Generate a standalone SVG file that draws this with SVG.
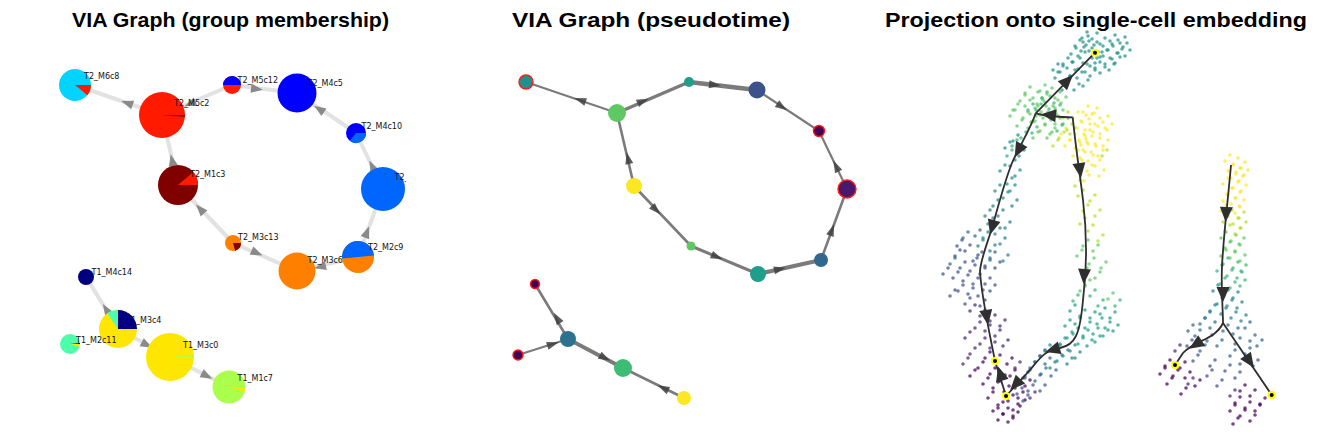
<svg xmlns="http://www.w3.org/2000/svg" xmlns:xlink="http://www.w3.org/1999/xlink" width="1324" height="443" viewBox="0 0 1324 443">
<style>
.title{font-family:"Liberation Sans",Arial,sans-serif;font-weight:bold;font-size:21px;fill:#000;text-anchor:middle}
.lbl{font-family:"DejaVu Sans",sans-serif;font-size:8px;fill:#111}
.eL{stroke:#e2e2e2;stroke-width:4;fill:none;stroke-linecap:round}
.eM{stroke:#5a5a5a;stroke-opacity:.8;fill:none;stroke-linecap:round}
.tr{stroke:#2f2f2f;stroke-width:1.8;fill:none;stroke-linejoin:round}
.term{fill:#000;stroke:#ffff00;stroke-width:2}
.rim{stroke:#ff1a1a;stroke-width:1.4}
#cells circle{r:1.8px}
</style>
<defs>
<clipPath id="cL"><rect x="0" y="30" width="406" height="413"/></clipPath>
<clipPath id="cR"><rect x="930" y="30" width="394" height="413"/></clipPath>
<path id="ahL" d="M-6,-4.5 L6,0 L-6,4.5 Z" fill="#8a8a8a"/>
<path id="ahM" d="M-6,-4 L6,0 L-6,4 Z" fill="#404040" fill-opacity=".85"/>
<path id="ahR" d="M-8,-6.5 L7,0 L-8,6.5 Z" fill="#2f2f2f"/>
</defs>
<rect width="1324" height="443" fill="#fff"/>
<text class="title" x="230.5" y="27" textLength="317" lengthAdjust="spacingAndGlyphs">VIA Graph (group membership)</text>
<text class="title" x="651" y="27" textLength="278" lengthAdjust="spacingAndGlyphs">VIA Graph (pseudotime)</text>
<text class="title" x="1096" y="27" textLength="422" lengthAdjust="spacingAndGlyphs">Projection onto single-cell embedding</text>

<!-- LEFT PANEL -->
<g clip-path="url(#cL)">
<g id="left-connectors">
<path class="eL" d="M162,115 L75,85"/>
<path class="eL" d="M162,115 L232,85"/>
<path class="eL" d="M232,85 L297,93"/>
<path class="eL" d="M297,93 L356,133"/>
<path class="eL" d="M356,133 L383,189" stroke-width="3"/>
<path class="eL" d="M383,189 L358,257"/>
<path class="eL" d="M358,257 L297,271"/>
<path class="eL" d="M297,271 L233,243"/>
<path class="eL" d="M233,243 L178,185"/>
<path class="eL" d="M178,185 L162,115"/>
<path class="eL" d="M86,277 L118,329"/>
<path class="eL" d="M118,329 L170,357"/>
<path class="eL" d="M170,357 L229,387"/>
<use href="#ahL" transform="translate(127,103) rotate(-161)"/>
<use href="#ahL" transform="translate(190,104) rotate(157)"/>
<use href="#ahL" transform="translate(257,89) rotate(7)"/>
<use href="#ahL" transform="translate(319,109) rotate(-146)"/>
<use href="#ahL" transform="translate(372,166) rotate(-116)"/>
<use href="#ahL" transform="translate(367,232) rotate(-70)"/>
<use href="#ahL" transform="translate(320,267) rotate(167)"/>
<use href="#ahL" transform="translate(257,253) rotate(24)"/>
<use href="#ahL" transform="translate(200,209) rotate(-133)"/>
<use href="#ahL" transform="translate(172,160) rotate(-103)"/>
<use href="#ahL" transform="translate(106,309) rotate(-122)"/>
<use href="#ahL" transform="translate(147,345) rotate(28)"/>
<use href="#ahL" transform="translate(207,376) rotate(27)"/>
</g>
<g id="left-labels">
<text class="lbl" x="126" y="322.5">T1_M3c4</text>
</g>
<g id="T2_M6c8"><circle cx="75" cy="85" r="16" fill="#00d4ff"/><path d="M75,85 L91,85 A16,16 0 0 1 87.3,95.3 Z" fill="#ff1a00"/><text class="lbl" x="84" y="79">T2_M6c8</text></g>
<g id="T2_M5c2"><circle cx="162" cy="115" r="23" fill="#ff1a00"/><path d="M162,115 L185,115 L185,117 Z" fill="#8a1010"/><text class="lbl" x="174" y="106">T2_M5c2</text></g>
<g id="T2_M1c3"><circle cx="178" cy="185" r="20" fill="#800000"/><path d="M178,185 L198,185 A20,20 0 0 0 193.3,172.1 Z" fill="#ff1a00"/><text class="lbl" x="190" y="177">T2_M1c3</text></g>
<g id="T2_M5c12"><circle cx="232" cy="85" r="9" fill="#ff1a00"/><path d="M223,85 A9,9 0 0 1 241,85 Z" fill="#0000ff"/><text class="lbl" x="237.5" y="82.5">T2_M5c12</text></g>
<g id="T2_M4c5"><circle cx="297" cy="93" r="19.5" fill="#0000ff"/><text class="lbl" x="307.5" y="86">T2_M4c5</text></g>
<g id="T2_M4c10"><circle cx="356" cy="133" r="10" fill="#0000ff"/><path d="M356,133 L366,133 A10,10 0 0 1 349.6,140.7 Z" fill="#0066ff"/><text class="lbl" x="361.5" y="129">T2_M4c10</text></g>
<g id="T2_big"><circle cx="383" cy="189" r="22" fill="#0066ff"/><text class="lbl" x="394.5" y="179.5">T2_</text></g>
<g id="T2_M3c13"><circle cx="233" cy="243" r="8" fill="#ff8000"/><path d="M233,243 L241,243 A8,8 0 0 1 235.1,250.7 Z" fill="#800000"/><text class="lbl" x="238" y="240">T2_M3c13</text></g>
<g id="T2_M3c6"><circle cx="297" cy="271" r="18.5" fill="#ff8000"/><text class="lbl" x="307.5" y="263">T2_M3c6</text></g>
<g id="T2_M2c9"><circle cx="358" cy="257" r="16" fill="#ff8000"/><path d="M358,257 L342,258.5 A16,16 0 0 1 374,255.5 Z" fill="#0066ff"/><text class="lbl" x="368" y="249.5">T2_M2c9</text></g>
<g id="T1_M4c14"><circle cx="86" cy="277" r="8" fill="#000080"/><text class="lbl" x="91.5" y="275">T1_M4c14</text></g>
<g id="T1_M3c4"><circle cx="118" cy="329" r="19" fill="#ffe600"/><path d="M118,329 L118,310 A19,19 0 0 1 137,329 Z" fill="#000080"/><path d="M118,329 L107.4,313.2 A19,19 0 0 1 118,310 Z" fill="#4dffb3"/></g>
<g id="T1_M2c11"><circle cx="70" cy="344" r="10" fill="#4dffaa"/><path d="M70,344 L80,344 A10,10 0 0 1 79.6,346.8 Z" fill="#ffe600"/><path d="M70,344 L80,343 L80,344 Z" fill="#000080"/><text class="lbl" x="76" y="342.5">T1_M2c11</text></g>
<g id="T1_M3c0"><circle cx="170" cy="357" r="24" fill="#ffe600"/><path d="M170,357 L194,357 A24,24 0 0 0 193.9,355.3 Z" fill="#aaff4d"/><text class="lbl" x="183" y="347.5">T1_M3c0</text></g>
<g id="T1_M1c7"><circle cx="229" cy="387" r="16.5" fill="#aaff4d"/><path d="M229,387 L245.4,388.5 A16.5,16.5 0 0 1 244.7,392.1 Z" fill="#ffe600"/><text class="lbl" x="237.5" y="380.5">T1_M1c7</text></g>
</g>

<!-- MIDDLE PANEL -->
<g id="middle-connectors">
<path class="eM" stroke-width="2.2" d="M617,113 L526,82"/>
<path class="eM" stroke-width="3.5" d="M617,113 L689,82"/>
<path class="eM" stroke-width="4.5" d="M689,82 L757,90"/>
<path class="eM" stroke-width="2.2" d="M757,90 L819,131"/>
<path class="eM" stroke-width="2.6" d="M634,186 L617,113"/>
<path class="eM" stroke-width="2.6" d="M634,186 L691,246"/>
<path class="eM" stroke-width="3" d="M691,246 L758,274"/>
<path class="eM" stroke-width="4" d="M758,274 L821,260"/>
<path class="eM" stroke-width="2.6" d="M821,260 L847,189"/>
<path class="eM" stroke-width="2.2" d="M847,189 L819,131"/>
<path class="eM" stroke-width="2.6" d="M568,339 L535,284"/>
<path class="eM" stroke-width="2" d="M518,355 L568,339"/>
<path class="eM" stroke-width="4" d="M568,339 L623,368"/>
<path class="eM" stroke-width="2.6" d="M684,398 L623,368"/>
<use href="#ahM" transform="translate(580,100) rotate(-161)"/>
<use href="#ahM" transform="translate(643,101) rotate(-23)"/>
<use href="#ahM" transform="translate(715,85) rotate(7)"/>
<use href="#ahM" transform="translate(782,107) rotate(33.5)"/>
<use href="#ahM" transform="translate(628,158) rotate(-103)"/>
<use href="#ahM" transform="translate(656,210) rotate(46.5)"/>
<use href="#ahM" transform="translate(717,257) rotate(23)"/>
<use href="#ahM" transform="translate(780,269) rotate(-12.5)"/>
<use href="#ahM" transform="translate(832,230) rotate(-70)"/>
<use href="#ahM" transform="translate(836,166) rotate(-116)"/>
<use href="#ahM" transform="translate(557,318) rotate(-121)"/>
<use href="#ahM" transform="translate(553,344) rotate(-18)"/>
<use href="#ahM" transform="translate(605,358) rotate(28)"/>
<use href="#ahM" transform="translate(663,388) rotate(-154)"/>
</g>
<g id="pA"><circle class="rim" cx="526" cy="82" r="7" fill="#21908d"/></g>
<g id="pB"><circle cx="617" cy="113" r="9" fill="#5ec962"/></g>
<g id="pC"><circle cx="689" cy="82" r="5" fill="#1f9e89"/></g>
<g id="pD"><circle cx="757" cy="90" r="8.5" fill="#3b528b"/></g>
<g id="pE"><circle class="rim" cx="819" cy="131" r="5.5" fill="#440154"/></g>
<g id="pF"><circle cx="634" cy="186" r="8" fill="#fde725"/></g>
<g id="pG"><circle class="rim" cx="847" cy="189" r="9" fill="#48186a"/></g>
<g id="pH"><circle cx="691" cy="246" r="4.5" fill="#5ec962"/></g>
<g id="pI"><circle cx="758" cy="274" r="8" fill="#1f9e89"/></g>
<g id="pJ"><circle cx="821" cy="260" r="7" fill="#31688e"/></g>
<g id="pK"><circle class="rim" cx="535" cy="284" r="4.5" fill="#440154"/></g>
<g id="pL"><circle cx="568" cy="339" r="8" fill="#2c728e"/></g>
<g id="pM"><circle class="rim" cx="518" cy="355" r="5" fill="#440154"/></g>
<g id="pN"><circle cx="623" cy="368" r="9" fill="#3dbc74"/></g>
<g id="pO"><circle cx="684" cy="398" r="7" fill="#fde725"/></g>

<!-- RIGHT PANEL -->
<g clip-path="url(#cR)">
<g id="cellsAll">
<g id="cells" fill-opacity=".72">
<g fill="#21918c">
<circle cx="1080" cy="40" r="1.5"/><circle cx="1088" cy="36" r="1.5"/><circle cx="1097" cy="42" r="1.5"/><circle cx="1105" cy="38" r="1.5"/><circle cx="1112" cy="44" r="1.5"/><circle cx="1118" cy="40" r="1.5"/><circle cx="1123" cy="47" r="1.5"/><circle cx="1108" cy="50" r="1.5"/><circle cx="1100" cy="57" r="1.5"/><circle cx="1092" cy="58" r="1.5"/><circle cx="1085" cy="52" r="1.5"/><circle cx="1078" cy="56" r="1.5"/><circle cx="1072" cy="62" r="1.5"/><circle cx="1083" cy="63" r="1.5"/><circle cx="1090" cy="66" r="1.5"/><circle cx="1100" cy="62" r="1.5"/><circle cx="1110" cy="58" r="1.5"/><circle cx="1117" cy="53" r="1.5"/><circle cx="1103" cy="46" r="1.5"/><circle cx="1094" cy="45" r="1.5"/><circle cx="1086" cy="45" r="1.5"/><circle cx="1076" cy="48" r="1.5"/><circle cx="1068" cy="58" r="1.5"/><circle cx="1063" cy="66" r="1.5"/><circle cx="1075" cy="70" r="1.5"/><circle cx="1082" cy="72" r="1.5"/><circle cx="1095" cy="70" r="1.5"/><circle cx="1105" cy="67" r="1.5"/><circle cx="1114" cy="64" r="1.5"/><circle cx="1120" cy="57" r="1.5"/><circle cx="1127" cy="43" r="1.5"/><circle cx="1130" cy="50" r="1.5"/><circle cx="1087" cy="32" r="1.5"/><circle cx="1097" cy="33" r="1.5"/><circle cx="1115" cy="35" r="1.5"/><circle cx="1070" cy="76" r="1.5"/><circle cx="1060" cy="72" r="1.5"/><circle cx="1088" cy="80" r="1.5"/><circle cx="1079" cy="84" r="1.5"/><circle cx="1067" cy="84" r="1.5"/><circle cx="1089" cy="41" r="1.5"/><circle cx="1102" cy="52" r="1.5"/><circle cx="1125" cy="37" r="1.5"/><circle cx="1058" cy="64" r="1.5"/>
<circle cx="1018" cy="135" r="1.5"/><circle cx="1010" cy="142" r="1.5"/><circle cx="1024" cy="150" r="1.5"/><circle cx="1015" cy="160" r="1.5"/><circle cx="1005" cy="165" r="1.5"/><circle cx="1020" cy="170" r="1.5"/><circle cx="1012" cy="178" r="1.5"/><circle cx="1000" cy="185" r="1.5"/><circle cx="1015" cy="185" r="1.5"/><circle cx="1008" cy="192" r="1.5"/>
</g>
<g fill="#26828e">
<circle cx="998" cy="200" r="1.5"/><circle cx="1017" cy="200" r="1.5"/><circle cx="1003" cy="210" r="1.5"/><circle cx="990" cy="210" r="1.5"/><circle cx="993" cy="218" r="1.5"/><circle cx="1010" cy="222" r="1.5"/><circle cx="1000" cy="228" r="1.5"/><circle cx="988" cy="232" r="1.5"/><circle cx="1005" cy="238" r="1.5"/><circle cx="995" cy="245" r="1.5"/><circle cx="983" cy="240" r="1.5"/><circle cx="1008" cy="255" r="1.5"/>
<circle cx="1060" cy="345" r="1.5"/><circle cx="1068" cy="350" r="1.5"/><circle cx="1075" cy="345" r="1.5"/><circle cx="1062" cy="355" r="1.5"/><circle cx="1072" cy="358" r="1.5"/><circle cx="1055" cy="362" r="1.5"/><circle cx="1080" cy="352" r="1.5"/><circle cx="1050" cy="345" r="1.5"/>
<circle cx="1218" cy="285" r="1.5"/><circle cx="1228" cy="290" r="1.5"/><circle cx="1238" cy="292" r="1.5"/><circle cx="1222" cy="298" r="1.5"/><circle cx="1232" cy="300" r="1.5"/><circle cx="1242" cy="302" r="1.5"/><circle cx="1215" cy="305" r="1.5"/><circle cx="1226" cy="308" r="1.5"/><circle cx="1236" cy="312" r="1.5"/><circle cx="1246" cy="315" r="1.5"/><circle cx="1210" cy="312" r="1.5"/>
</g>
<g fill="#5ec962">
<circle cx="1045" cy="85" r="1.5"/><circle cx="1052" cy="88" r="1.5"/><circle cx="1038" cy="92" r="1.5"/><circle cx="1060" cy="92" r="1.5"/><circle cx="1030" cy="100" r="1.5"/><circle cx="1042" cy="98" r="1.5"/><circle cx="1050" cy="96" r="1.5"/><circle cx="1058" cy="100" r="1.5"/><circle cx="1066" cy="97" r="1.5"/><circle cx="1035" cy="108" r="1.5"/><circle cx="1046" cy="106" r="1.5"/><circle cx="1055" cy="108" r="1.5"/><circle cx="1063" cy="110" r="1.5"/><circle cx="1028" cy="112" r="1.5"/><circle cx="1040" cy="115" r="1.5"/><circle cx="1050" cy="118" r="1.5"/><circle cx="1060" cy="118" r="1.5"/><circle cx="1033" cy="122" r="1.5"/><circle cx="1045" cy="125" r="1.5"/><circle cx="1055" cy="128" r="1.5"/><circle cx="1025" cy="95" r="1.5"/><circle cx="1018" cy="104" r="1.5"/><circle cx="1038" cy="132" r="1.5"/><circle cx="1048" cy="112" r="1.5"/><circle cx="1043" cy="100" r="1.5"/><circle cx="1056" cy="114" r="1.5"/><circle cx="1036" cy="116" r="1.5"/><circle cx="1052" cy="132" r="1.5"/><circle cx="1022" cy="120" r="1.5"/><circle cx="1030" cy="87" r="1.5"/><circle cx="1015" cy="110" r="1.5"/>
<circle cx="1088" cy="240" r="1.5"/><circle cx="1098" cy="245" r="1.5"/><circle cx="1082" cy="250" r="1.5"/><circle cx="1094" cy="258" r="1.5"/><circle cx="1087" cy="268" r="1.5"/><circle cx="1100" cy="272" r="1.5"/><circle cx="1090" cy="280" r="1.5"/><circle cx="1106" cy="262" r="1.5"/><circle cx="1113" cy="293" r="1.5"/><circle cx="1085" cy="285" r="1.5"/>
<circle cx="1226" cy="232" r="1.5"/><circle cx="1236" cy="235" r="1.5"/><circle cx="1244" cy="238" r="1.5"/><circle cx="1230" cy="242" r="1.5"/><circle cx="1240" cy="245" r="1.5"/><circle cx="1226" cy="250" r="1.5"/><circle cx="1235" cy="252" r="1.5"/><circle cx="1245" cy="255" r="1.5"/>
</g>
<g fill="#35b779">
<circle cx="1041" cy="104" r="1.5"/><circle cx="1054" cy="103" r="1.5"/><circle cx="1047" cy="92" r="1.5"/><circle cx="1033" cy="104" r="1.5"/><circle cx="1060" cy="105" r="1.5"/><circle cx="1037" cy="127" r="1.5"/><circle cx="1026" cy="132" r="1.5"/><circle cx="1017" cy="140" r="1.5"/><circle cx="1012" cy="150" r="1.5"/><circle cx="1022" cy="145" r="1.5"/><circle cx="1062" cy="125" r="1.5"/><circle cx="1068" cy="118" r="1.5"/>
<circle cx="1095" cy="290" r="1.5"/><circle cx="1103" cy="300" r="1.5"/><circle cx="1078" cy="295" r="1.5"/><circle cx="1120" cy="300" r="1.5"/>
<circle cx="1228" cy="258" r="1.5"/><circle cx="1238" cy="262" r="1.5"/><circle cx="1246" cy="265" r="1.5"/><circle cx="1222" cy="265" r="1.5"/><circle cx="1232" cy="270" r="1.5"/><circle cx="1242" cy="272" r="1.5"/><circle cx="1225" cy="278" r="1.5"/><circle cx="1235" cy="282" r="1.5"/><circle cx="1245" cy="280" r="1.5"/>
</g>
<g fill="#b5de2b">
<circle cx="1068" cy="112" r="1.5"/><circle cx="1072" cy="124" r="1.5"/><circle cx="1064" cy="132" r="1.5"/><circle cx="1075" cy="128" r="1.5"/><circle cx="1058" cy="140" r="1.5"/>
<circle cx="1083" cy="190" r="1.5"/><circle cx="1095" cy="195" r="1.5"/><circle cx="1088" cy="205" r="1.5"/><circle cx="1100" cy="210" r="1.5"/><circle cx="1085" cy="218" r="1.5"/><circle cx="1093" cy="225" r="1.5"/><circle cx="1080" cy="180" r="1.5"/><circle cx="1103" cy="235" r="1.5"/><circle cx="1107" cy="150" r="1.5"/>
<circle cx="1232" cy="210" r="1.5"/><circle cx="1244" cy="212" r="1.5"/><circle cx="1228" cy="216" r="1.5"/><circle cx="1238" cy="218" r="1.5"/><circle cx="1246" cy="222" r="1.5"/><circle cx="1230" cy="225" r="1.5"/><circle cx="1240" cy="228" r="1.5"/>
</g>
<g fill="#fde725">
<circle cx="1078" cy="112" r="1.5"/><circle cx="1086" cy="115" r="1.5"/><circle cx="1094" cy="113" r="1.5"/><circle cx="1100" cy="118" r="1.5"/><circle cx="1108" cy="116" r="1.5"/><circle cx="1082" cy="122" r="1.5"/><circle cx="1090" cy="124" r="1.5"/><circle cx="1098" cy="126" r="1.5"/><circle cx="1105" cy="128" r="1.5"/><circle cx="1075" cy="134" r="1.5"/><circle cx="1084" cy="134" r="1.5"/><circle cx="1092" cy="136" r="1.5"/><circle cx="1100" cy="138" r="1.5"/><circle cx="1108" cy="140" r="1.5"/><circle cx="1080" cy="142" r="1.5"/><circle cx="1088" cy="144" r="1.5"/><circle cx="1096" cy="146" r="1.5"/><circle cx="1085" cy="152" r="1.5"/><circle cx="1093" cy="155" r="1.5"/><circle cx="1078" cy="150" r="1.5"/><circle cx="1070" cy="140" r="1.5"/><circle cx="1103" cy="150" r="1.5"/><circle cx="1112" cy="124" r="1.5"/><circle cx="1097" cy="108" r="1.5"/><circle cx="1088" cy="106" r="1.5"/><circle cx="1082" cy="160" r="1.5"/><circle cx="1092" cy="165" r="1.5"/><circle cx="1100" cy="160" r="1.5"/><circle cx="1066" cy="128" r="1.5"/><circle cx="1104" cy="170" r="1.5"/><circle cx="1089" cy="175" r="1.5"/><circle cx="1090" cy="130" r="1.5"/><circle cx="1086" cy="139" r="1.5"/>
<circle cx="1230" cy="155" r="1.5"/><circle cx="1238" cy="158" r="1.5"/><circle cx="1245" cy="162" r="1.5"/><circle cx="1233" cy="165" r="1.5"/><circle cx="1241" cy="168" r="1.5"/><circle cx="1236" cy="172" r="1.5"/><circle cx="1244" cy="175" r="1.5"/><circle cx="1228" cy="178" r="1.5"/><circle cx="1238" cy="182" r="1.5"/><circle cx="1246" cy="185" r="1.5"/><circle cx="1232" cy="188" r="1.5"/><circle cx="1240" cy="192" r="1.5"/><circle cx="1228" cy="195" r="1.5"/><circle cx="1236" cy="198" r="1.5"/><circle cx="1244" cy="200" r="1.5"/><circle cx="1226" cy="205" r="1.5"/><circle cx="1240" cy="207" r="1.5"/><circle cx="1248" cy="170" r="1.5"/>
</g>
<g fill="#1f9e89">
<circle cx="1075" cy="305" r="1.5"/><circle cx="1085" cy="310" r="1.5"/><circle cx="1095" cy="312" r="1.5"/><circle cx="1102" cy="318" r="1.5"/><circle cx="1110" cy="322" r="1.5"/><circle cx="1080" cy="318" r="1.5"/><circle cx="1090" cy="322" r="1.5"/><circle cx="1098" cy="328" r="1.5"/><circle cx="1088" cy="330" r="1.5"/><circle cx="1078" cy="328" r="1.5"/><circle cx="1070" cy="320" r="1.5"/><circle cx="1105" cy="308" r="1.5"/><circle cx="1115" cy="312" r="1.5"/><circle cx="1100" cy="336" r="1.5"/><circle cx="1092" cy="340" r="1.5"/><circle cx="1083" cy="338" r="1.5"/><circle cx="1072" cy="332" r="1.5"/><circle cx="1065" cy="338" r="1.5"/><circle cx="1108" cy="330" r="1.5"/><circle cx="1118" cy="325" r="1.5"/>
</g>
<g fill="#31688e">
<circle cx="1045" cy="350" r="1.5"/><circle cx="1040" cy="356" r="1.5"/><circle cx="1050" cy="358" r="1.5"/><circle cx="1035" cy="362" r="1.5"/><circle cx="1046" cy="368" r="1.5"/><circle cx="1030" cy="370" r="1.5"/><circle cx="1040" cy="375" r="1.5"/><circle cx="1025" cy="378" r="1.5"/><circle cx="1056" cy="370" r="1.5"/>
<circle cx="980" cy="230" r="1.5"/><circle cx="968" cy="232" r="1.5"/><circle cx="995" cy="252" r="1.5"/><circle cx="955" cy="258" r="1.5"/>
<circle cx="1205" cy="318" r="1.5"/><circle cx="1215" cy="322" r="1.5"/><circle cx="1228" cy="325" r="1.5"/><circle cx="1238" cy="328" r="1.5"/><circle cx="1250" cy="322" r="1.5"/><circle cx="1200" cy="330" r="1.5"/><circle cx="1212" cy="335" r="1.5"/><circle cx="1240" cy="338" r="1.5"/><circle cx="1255" cy="335" r="1.5"/><circle cx="1193" cy="325" r="1.5"/><circle cx="1222" cy="340" r="1.5"/><circle cx="1250" cy="348" r="1.5"/><circle cx="1262" cy="340" r="1.5"/><circle cx="1205" cy="345" r="1.5"/><circle cx="1235" cy="350" r="1.5"/>
</g>
<g fill="#3b528b">
<circle cx="960" cy="250" r="1.5"/><circle cx="970" cy="245" r="1.5"/><circle cx="982" cy="252" r="1.5"/><circle cx="990" cy="260" r="1.5"/><circle cx="965" cy="262" r="1.5"/><circle cx="975" cy="265" r="1.5"/><circle cx="985" cy="268" r="1.5"/><circle cx="958" cy="272" r="1.5"/><circle cx="968" cy="275" r="1.5"/><circle cx="978" cy="278" r="1.5"/><circle cx="990" cy="278" r="1.5"/><circle cx="963" cy="285" r="1.5"/><circle cx="973" cy="288" r="1.5"/><circle cx="983" cy="290" r="1.5"/><circle cx="955" cy="290" r="1.5"/><circle cx="995" cy="285" r="1.5"/><circle cx="970" cy="298" r="1.5"/><circle cx="985" cy="300" r="1.5"/><circle cx="978" cy="255" r="1.5"/><circle cx="962" cy="240" r="1.5"/><circle cx="1000" cy="262" r="1.5"/><circle cx="948" cy="268" r="1.5"/>
<circle cx="1033" cy="385" r="1.5"/><circle cx="1022" cy="388" r="1.5"/><circle cx="1028" cy="395" r="1.5"/><circle cx="1045" cy="385" r="1.5"/>
<circle cx="1192" cy="340" r="1.5"/><circle cx="1198" cy="355" r="1.5"/><circle cx="1245" cy="358" r="1.5"/><circle cx="1258" cy="360" r="1.5"/><circle cx="1215" cy="360" r="1.5"/><circle cx="1230" cy="365" r="1.5"/><circle cx="1212" cy="370" r="1.5"/><circle cx="1240" cy="372" r="1.5"/><circle cx="1222" cy="380" r="1.5"/>
</g>
<g fill="#482878">
<circle cx="975" cy="305" r="1.5"/><circle cx="985" cy="310" r="1.5"/><circle cx="995" cy="315" r="1.5"/><circle cx="1005" cy="320" r="1.5"/><circle cx="980" cy="322" r="1.5"/><circle cx="990" cy="325" r="1.5"/><circle cx="1000" cy="330" r="1.5"/><circle cx="970" cy="332" r="1.5"/><circle cx="985" cy="338" r="1.5"/><circle cx="995" cy="342" r="1.5"/><circle cx="1008" cy="340" r="1.5"/><circle cx="975" cy="348" r="1.5"/><circle cx="1020" cy="362" r="1.5"/><circle cx="1028" cy="372" r="1.5"/><circle cx="1035" cy="392" r="1.5"/><circle cx="968" cy="358" r="1.5"/>
<circle cx="1193" cy="378" r="1.5"/><circle cx="1180" cy="345" r="1.5"/><circle cx="1235" cy="390" r="1.5"/>
</g>
<g fill="#440154">
<circle cx="990" cy="352" r="1.5"/><circle cx="1000" cy="355" r="1.5"/><circle cx="1012" cy="358" r="1.5"/><circle cx="983" cy="362" r="1.5"/><circle cx="995" cy="368" r="1.5"/><circle cx="1005" cy="375" r="1.5"/><circle cx="1015" cy="370" r="1.5"/><circle cx="988" cy="378" r="1.5"/><circle cx="998" cy="382" r="1.5"/><circle cx="1009" cy="386" r="1.5"/><circle cx="1020" cy="382" r="1.5"/><circle cx="993" cy="392" r="1.5"/><circle cx="1003" cy="402" r="1.5"/><circle cx="1013" cy="395" r="1.5"/><circle cx="1023" cy="392" r="1.5"/><circle cx="998" cy="405" r="1.5"/><circle cx="1008" cy="408" r="1.5"/><circle cx="1018" cy="404" r="1.5"/><circle cx="1003" cy="414" r="1.5"/><circle cx="1013" cy="416" r="1.5"/><circle cx="975" cy="370" r="1.5"/><circle cx="1030" cy="380" r="1.5"/><circle cx="1025" cy="400" r="1.5"/><circle cx="1018" cy="412" r="1.5"/>
<circle cx="1170" cy="360" r="1.5"/><circle cx="1178" cy="370" r="1.5"/><circle cx="1185" cy="362" r="1.5"/><circle cx="1165" cy="368" r="1.5"/><circle cx="1190" cy="372" r="1.5"/><circle cx="1172" cy="378" r="1.5"/><circle cx="1200" cy="380" r="1.5"/><circle cx="1186" cy="388" r="1.5"/><circle cx="1245" cy="385" r="1.5"/><circle cx="1255" cy="390" r="1.5"/><circle cx="1240" cy="397" r="1.5"/><circle cx="1250" cy="402" r="1.5"/><circle cx="1260" cy="405" r="1.5"/><circle cx="1235" cy="405" r="1.5"/><circle cx="1245" cy="410" r="1.5"/><circle cx="1255" cy="415" r="1.5"/><circle cx="1265" cy="398" r="1.5"/><circle cx="1238" cy="418" r="1.5"/>
</g>
</g>
<use href="#cells" transform="translate(-5,6)"/>
</g>
<g id="trajectories">
<path class="tr" d="M1095,52.7 L1035.7,113.3"/>
<path class="tr" d="M1035.7,113.3 Q1050,117 1072.7,117.3"/>
<path class="tr" d="M1072.7,117.3 C1076,150 1080,175 1083,200 C1086,225 1088,260 1083,300 C1080,335 1075,345 1060,348 C1045,350 1040,358 1030,370 L1006,396"/>
<path class="tr" d="M1035.7,113.3 C1030,130 1020,145 1012,163 C1005,180 1000,200 992,228 C985,250 980,262 980,272 C982,300 990,335 995,361"/>
<path class="tr" d="M1006,396 L995,361"/>
<path class="tr" d="M1231,165 C1228,200 1224,230 1222,266 C1221,290 1223,310 1223,323 C1215,340 1195,340 1183,353 L1175,365 M1223,323 L1271.7,395"/>
<use href="#ahR" transform="translate(1068,80) rotate(-45.6)"/>
<use href="#ahR" transform="translate(1048,115) rotate(-174)"/>
<use href="#ahR" transform="translate(1080,171) rotate(82)"/>
<use href="#ahR" transform="translate(1084,277) rotate(94)"/>
<use href="#ahR" transform="translate(1052,350) rotate(163)"/>
<use href="#ahR" transform="translate(1015,385) rotate(133)"/>
<use href="#ahR" transform="translate(1000,373) rotate(-107)"/>
<use href="#ahR" transform="translate(1018,151) rotate(118)"/>
<use href="#ahR" transform="translate(992,228) rotate(106)"/>
<use href="#ahR" transform="translate(987,318) rotate(81)"/>
<use href="#ahR" transform="translate(1226,215) rotate(93)"/>
<use href="#ahR" transform="translate(1223,295) rotate(90)"/>
<use href="#ahR" transform="translate(1195,345) rotate(147)"/>
<use href="#ahR" transform="translate(1250,362) rotate(56)"/>
</g>
<g id="terminals">
<circle cx="1103" cy="26" r="4" fill="#ff8c00" stroke="#000" stroke-width="2"/>
<circle class="term" cx="1095" cy="52.7" r="3"/>
<circle class="term" cx="995" cy="361" r="3"/>
<circle class="term" cx="1006" cy="396" r="3"/>
<circle class="term" cx="1175" cy="365" r="3"/>
<circle class="term" cx="1271.7" cy="395" r="3"/>
</g>
</g>
</svg>
